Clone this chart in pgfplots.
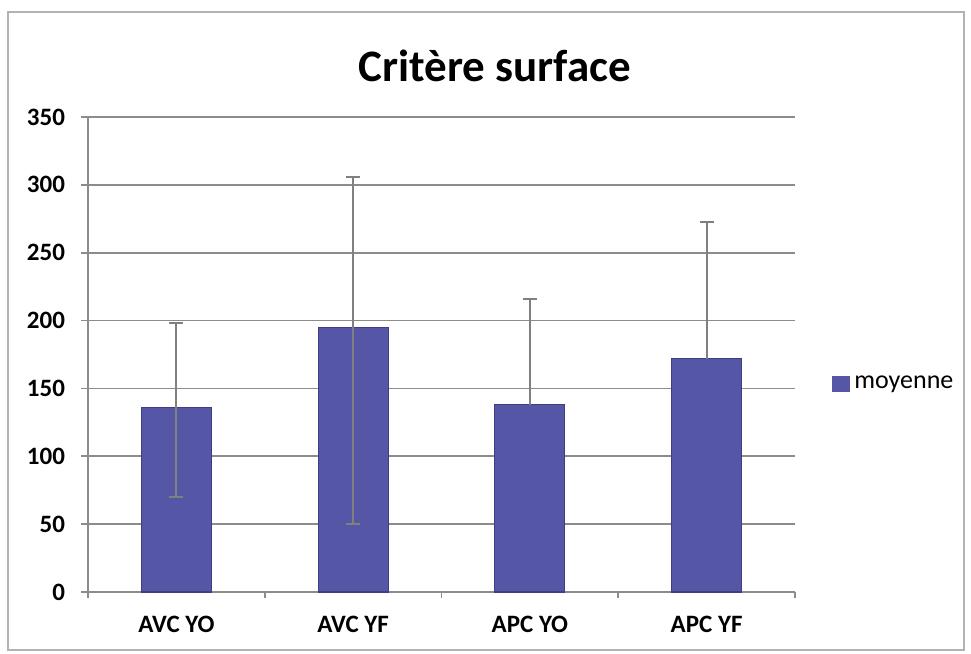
\documentclass[border=0pt]{standalone}
\usepackage{fontspec}
\setmainfont{Carlito}
\usepackage{pgfplots}
\pgfplotsset{compat=1.18}
\definecolor{barfill}{RGB}{86,86,166}
\definecolor{baredge}{RGB}{62,62,128}
\definecolor{gridc}{RGB}{140,140,140}
\definecolor{errc}{RGB}{128,128,128}
\begin{document}
\begin{tikzpicture}
\useasboundingbox (0,0) rectangle (485.5pt,327pt);
\draw[gray!60, line width=0.6pt] (4pt,2pt) rectangle (482pt,321pt);
\begin{axis}[
  at={(44pt,31pt)}, anchor=south west,
  scale only axis, width=353.5pt, height=237.5pt,
  xmin=-0.5, xmax=3.5, ymin=0, ymax=350,
  xtick={0,1,2,3},
  xticklabels={AVC YO, AVC YF, APC YO, APC YF},
  minor xtick={-0.5,0.5,1.5,2.5,3.5},
  ytick={0,50,...,350},
  ymajorgrids,
  major grid style={draw=gridc, line width=0.9pt},
  axis line style={draw=gridc, line width=0.9pt},
  axis x line*=bottom, axis y line*=left,
  x axis line style={-}, y axis line style={-},
  tick align=outside,
  major tick length=3.5pt, minor tick length=3pt,
  xtick style={draw=none},
  minor x tick style={draw=gridc, line width=0.8pt},
  ytick style={draw=gridc, line width=0.9pt},
  /pgf/number format/assume math mode=true,
  yticklabel style={font=\bfseries\fontsize{12.5}{14}\selectfont, xshift=-4.5pt},
  xticklabel style={font=\bfseries\fontsize{12.5}{14}\selectfont, yshift=-5pt},
  legend style={at={(axis description cs:1.052,0.438)}, anchor=west, draw=none, fill=none,
    font=\fontsize{13}{15}\selectfont, inner sep=0pt},
  legend image code/.code={\fill[barfill] (0pt,-3.5pt) rectangle (8.5pt,3.5pt);},
  clip=false,
]
\addplot[ybar, bar width=35pt, bar shift=0pt, fill=barfill, draw=baredge, line width=0.6pt,
  error bars/.cd, y dir=both, y explicit,
  error bar style={draw=errc, line width=1pt},
  error mark options={draw=errc, line width=1pt, mark size=3.5pt, rotate=90}]
  table[x=x, y=y, y error plus=ep, y error minus=em] {
  x y ep em
  0 136 62 66
  1 195 111 145
};
\addlegendentry{moyenne}
\addplot[ybar, bar width=35pt, bar shift=0pt, fill=barfill, draw=baredge, line width=0.6pt, forget plot,
  error bars/.cd, y dir=plus, y explicit,
  error bar style={draw=errc, line width=1pt},
  error mark options={draw=errc, line width=1pt, mark size=3.5pt, rotate=90}]
  table[x=x, y=y, y error plus=ep] {
  x y ep
  2 138 78
  3 172 101
};
\end{axis}
\node[font=\bfseries\fontsize{22.5}{26}\selectfont] at (247.5pt,294pt) {Critère surface};
\end{tikzpicture}
\end{document}
